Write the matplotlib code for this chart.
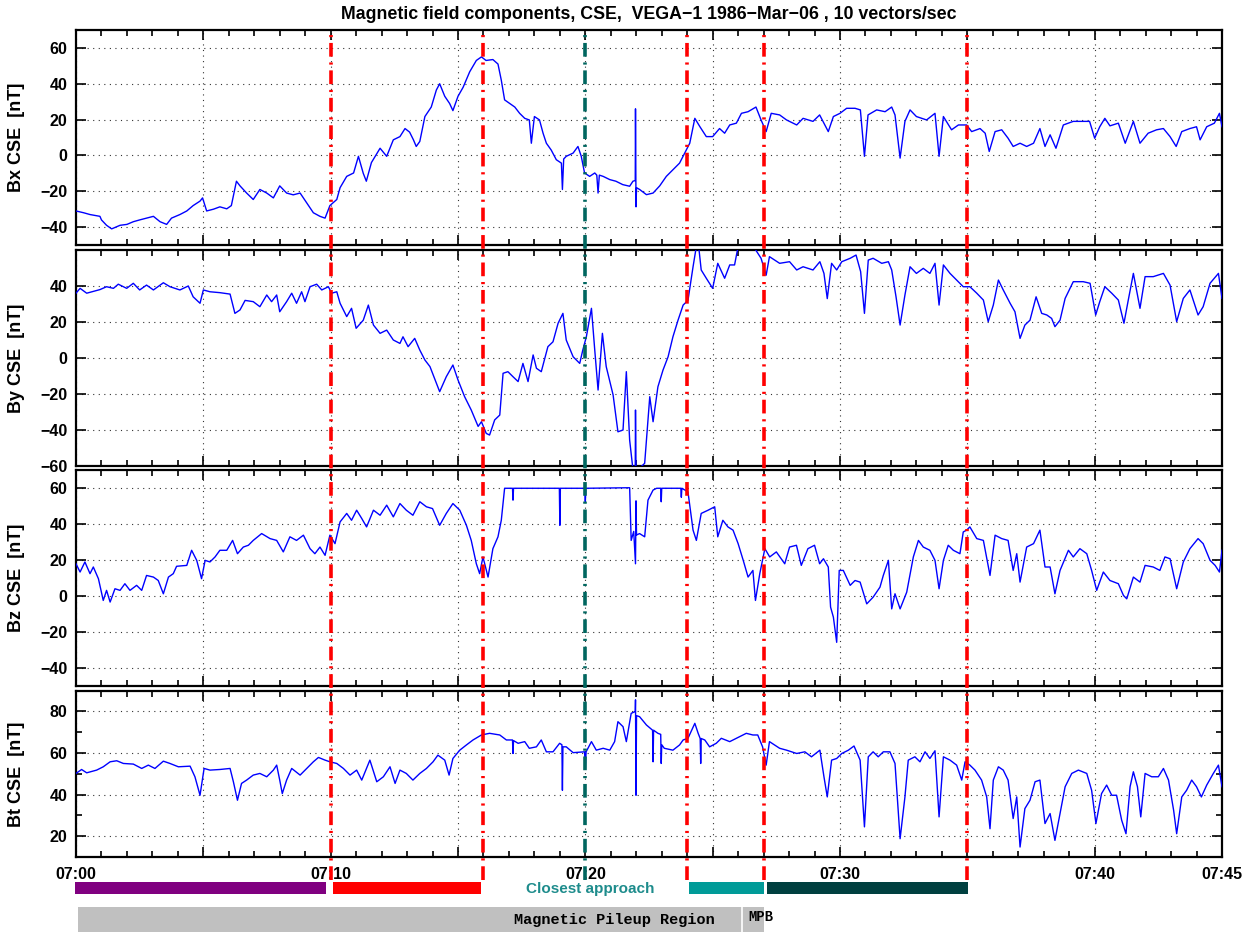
import numpy as np
import matplotlib
matplotlib.use("Agg")
import matplotlib.pyplot as plt
from matplotlib.lines import Line2D
from matplotlib.patches import Rectangle
from matplotlib.ticker import MultipleLocator, FuncFormatter
from matplotlib.transforms import blended_transform_factory

plt.rcParams["font.family"] = ["Liberation Sans", "DejaVu Sans"]
plt.rcParams["font.weight"] = "bold"
plt.rcParams["axes.unicode_minus"] = True

# (minutes after 07:00, nT)
BX = [(0,-31),(0.3,-32),(0.55,-33),(0.94,-34),(1.0,-36),(1.2,-39),(1.4,-41),(1.73,-39),(2.0,-38.5),(2.25,-37),(2.5,-36),(2.77,-35),(3.04,-34),(3.3,-37),(3.56,-38.5),(3.75,-35),(4.08,-33),(4.35,-31),(4.6,-28),(4.87,-25.5),(4.97,-23.7),(5.13,-31),(5.4,-30),(5.65,-28.7),(5.92,-29.8),(6.1,-28),(6.3,-14.4),(6.44,-17),(6.7,-21),(6.96,-24.6),(7.22,-19),(7.49,-21),(7.75,-23.7),(8.0,-17),(8.27,-21),(8.53,-22),(8.8,-21),(9.06,-26.5),(9.32,-32),(9.58,-34),(9.78,-35),(9.97,-28),(10.24,-24.6),(10.37,-18),(10.63,-11.7),(10.9,-9.8),(11.09,-0.5),(11.28,-10),(11.4,-14.4),(11.6,-4),(11.94,4),(12.2,-0.5),(12.46,8.7),(12.72,10.5),(12.92,15),(13.1,13),(13.25,8.7),(13.36,5),(13.5,7.8),(13.7,21.7),(13.95,27),(14.15,36.5),(14.28,40),(14.48,33),(14.67,29),(14.8,25),(15.0,33),(15.2,38),(15.46,46.7),(15.72,53),(15.92,55),(16.1,53),(16.37,53.5),(16.57,51),(16.7,42),(16.83,31),(17.03,29),(17.23,27),(17.42,23.5),(17.62,20.7),(17.8,19.8),(17.88,6.8),(18.0,21.7),(18.2,19.8),(18.34,12.4),(18.47,6.8),(18.66,3),(18.86,-2.4),(19.06,-4.3),(19.1,-19),(19.15,-2),(19.25,-0.5),(19.52,1.3),(19.71,5),(19.84,-0.5),(19.97,-9.8),(20.17,-11.7),(20.37,-9.8),(20.45,-11),(20.5,-21),(20.55,-11),(20.7,-11.7),(20.96,-13.5),(21.2,-14.4),(21.47,-16.3),(21.74,-17.2),(21.87,-14.4),(21.96,-14),(21.97,26),(21.99,-28.7),(22.01,-18),(22.13,-19),(22.4,-21.9),(22.66,-21),(22.92,-17),(23.18,-11.7),(23.44,-8),(23.7,-4.3),(23.9,1.3),(24.1,6.8),(24.3,20.7),(24.5,16),(24.75,10.5),(25.0,10.5),(25.27,15),(25.47,12.4),(25.67,17),(25.93,18),(26.13,23.5),(26.39,24.4),(26.7,27),(26.9,19.8),(27.1,13.3),(27.3,23.5),(27.63,22.6),(27.9,19.8),(28.3,17),(28.55,20.7),(28.94,19),(29.2,22.6),(29.54,13.3),(29.74,21.7),(30.0,23.5),(30.26,26.3),(30.59,26.3),(30.8,25.4),(30.96,-0.5),(31.1,22.6),(31.44,25.4),(31.77,24.4),(32.03,27),(32.16,22.6),(32.36,-1.5),(32.55,19),(32.75,25.4),(33.0,21.7),(33.4,19.8),(33.73,23.5),(33.89,-0.5),(34.06,21.7),(34.38,14.3),(34.65,17),(34.97,17),(35.17,13.3),(35.5,15),(35.7,12.4),(35.86,2.2),(36.09,13.3),(36.35,14.3),(36.6,9.6),(36.8,5),(37.07,6.8),(37.33,5),(37.6,6.8),(37.85,15),(38.05,5),(38.25,11.5),(38.48,4),(38.77,17),(39.16,19),(39.55,19),(39.8,19),(40.0,9.6),(40.2,16),(40.4,20.7),(40.6,16.5),(40.93,18),(41.2,6.8),(41.52,19),(41.78,6.8),(42.1,12.4),(42.43,14.3),(42.7,15),(42.96,10.5),(43.2,5),(43.42,13.3),(43.74,15),(44.0,16),(44.14,8.7),(44.4,16),(44.7,18),(44.9,23.5),(45.0,16)]

BY = [(0,36),(0.16,38.7),(0.42,36),(0.68,37),(0.94,38),(1.2,39.6),(1.47,38.7),(1.66,41),(1.99,38.7),(2.25,41.5),(2.5,37.8),(2.77,40.5),(3.04,37.8),(3.43,41.8),(3.69,39.6),(4.08,37.8),(4.41,40),(4.6,34),(4.87,30.4),(5.0,37.8),(5.26,36.8),(5.65,36.3),(6.05,35.5),(6.24,24.8),(6.44,26.7),(6.64,32),(6.96,31.3),(7.22,28.5),(7.49,35),(7.68,31.3),(7.88,35),(8.0,25.7),(8.27,31.3),(8.47,36),(8.66,30.4),(8.86,36.8),(8.99,31.3),(9.19,39.6),(9.45,41),(9.65,37.8),(9.91,39.6),(10.04,36),(10.24,36.8),(10.37,30.4),(10.63,23),(10.82,27.6),(11.0,16.5),(11.28,21),(11.48,29.4),(11.68,18.3),(11.94,13.7),(12.2,15.5),(12.46,10),(12.72,8.1),(12.84,11.8),(13.04,6.3),(13.3,10.9),(13.5,4.4),(13.7,-1.1),(13.9,-4.8),(14.15,-14),(14.28,-18.7),(14.54,-10.4),(14.8,-3.9),(15.0,-12.2),(15.26,-21.5),(15.52,-28.9),(15.79,-38),(15.92,-35.4),(16.11,-41.9),(16.24,-42.8),(16.44,-34.4),(16.64,-31.7),(16.77,-8.5),(16.96,-7.6),(17.16,-10.4),(17.36,-13.1),(17.55,-3),(17.75,-13.1),(17.95,1.7),(18.08,-5.7),(18.27,-7.6),(18.53,6.3),(18.73,9),(18.93,19.3),(19.12,24.8),(19.25,10),(19.52,0.7),(19.78,-3),(19.9,4.4),(20.04,11.8),(20.24,27.6),(20.37,4.4),(20.5,-17.8),(20.67,13.7),(20.82,-4.8),(21.09,-20.5),(21.28,-41),(21.48,-40),(21.61,-7.6),(21.74,-45.6),(21.87,-62),(21.96,-62),(21.97,-28.9),(21.99,-62),(22.07,-62),(22.33,-58.5),(22.53,-21.5),(22.66,-35.4),(22.85,-16),(23.05,-6.7),(23.25,0.7),(23.44,11.8),(23.64,21),(23.84,29.4),(24.03,32),(24.23,50.7),(24.36,62),(24.45,62),(24.55,48.9),(24.75,44.3),(25.0,38.7),(25.2,52.6),(25.47,44.3),(25.67,51.7),(25.86,51.7),(26.0,62),(26.6,62),(26.9,55.4),(27.1,46),(27.23,56.3),(27.63,52.6),(28.02,53.5),(28.3,48.9),(28.55,50.7),(28.94,48.9),(29.21,53.5),(29.37,47),(29.5,33),(29.67,52.6),(29.87,48.9),(30.07,53.5),(30.4,55.4),(30.63,57.2),(30.81,48),(30.96,24.8),(31.11,54.4),(31.3,55.4),(31.64,52.6),(31.9,53.5),(32.03,48.9),(32.2,34),(32.36,18.3),(32.55,35),(32.75,50.7),(33.0,47),(33.27,49.8),(33.53,47),(33.73,52.6),(33.89,29.4),(34.06,51.7),(34.32,47),(34.58,43.3),(34.84,39.6),(35.1,39.6),(35.37,36),(35.63,32.2),(35.82,20.2),(36.02,29.4),(36.22,43.3),(36.41,37.8),(36.68,30.4),(36.87,25.7),(37.07,10.9),(37.26,18.3),(37.46,21),(37.7,34),(37.92,24.8),(38.12,23.9),(38.31,22),(38.44,17.4),(38.64,21),(38.84,33.1),(39.16,42.4),(39.55,42.4),(39.82,41.5),(40.04,23.9),(40.2,31.3),(40.4,39.6),(40.67,36),(40.93,32.2),(41.15,19.3),(41.32,32.2),(41.52,47),(41.78,27.6),(41.98,45.2),(42.3,45.2),(42.7,47),(42.96,40.5),(43.22,20.2),(43.48,33.1),(43.74,37.8),(44.06,23.9),(44.26,28.5),(44.53,41.5),(44.86,47),(45.0,33.1)]

BZ = [(0,18),(0.16,13.4),(0.35,19),(0.55,12.5),(0.68,16.2),(0.88,9.7),(1.07,-2.4),(1.2,3.2),(1.34,-3.3),(1.53,4.1),(1.73,3.2),(1.92,6.9),(2.12,3.2),(2.38,6),(2.58,3.2),(2.77,11.5),(3.04,10.6),(3.23,8.7),(3.43,1.3),(3.63,10.6),(3.82,12.5),(3.95,16.6),(4.35,17.1),(4.54,25.5),(4.74,19.9),(4.93,9.7),(5.07,19.9),(5.26,19),(5.46,21.8),(5.65,25.5),(5.92,25.5),(6.15,31),(6.34,23.6),(6.57,27.3),(6.77,28.3),(6.96,31),(7.29,34.8),(7.62,32),(7.88,31),(8.14,24.6),(8.4,33),(8.66,31),(8.93,33.9),(9.19,26.4),(9.38,23.6),(9.58,27.3),(9.78,22.7),(9.97,33.9),(10.17,29.2),(10.37,41.3),(10.63,46),(10.82,42.2),(11.02,47.8),(11.22,43.2),(11.41,38.5),(11.68,47.8),(11.94,45),(12.2,50.6),(12.46,44.1),(12.72,51.5),(12.97,47.8),(13.23,45),(13.5,52.5),(13.76,49.7),(14.0,48.7),(14.28,39.4),(14.54,46),(14.8,51.5),(15.07,47.8),(15.33,39.4),(15.52,31),(15.72,18),(15.85,12.5),(15.98,21.8),(16.18,10.6),(16.37,26.4),(16.57,33),(16.7,42.2),(16.83,60),(17.14,60),(17.16,53.4),(17.18,60),(18.98,60),(19.0,39.4),(19.02,60),(19.98,60),(20.0,52.5),(20.02,60),(21.74,60.3),(21.8,31),(21.9,36),(21.97,18),(21.99,53),(22.01,34),(22.13,34.8),(22.33,33),(22.46,53.4),(22.66,59),(22.8,60),(22.96,60),(22.98,52.5),(23.0,60),(23.75,60),(23.77,55),(23.79,60),(24.03,58),(24.23,36.7),(24.36,31),(24.55,46),(24.82,47.8),(25.08,49.7),(25.2,33),(25.4,42.2),(25.6,38.5),(25.8,36.7),(26.0,29.2),(26.2,19.9),(26.39,10.6),(26.58,14.3),(26.68,-2.4),(26.85,12.5),(27.05,26.4),(27.24,21.8),(27.5,24.6),(27.83,18),(28.02,27.3),(28.29,28.3),(28.48,17.1),(28.74,26.4),(29.0,28.3),(29.2,18),(29.35,20.8),(29.54,16.2),(29.63,-6.1),(29.74,-11.7),(29.87,-25.7),(29.97,14.3),(30.13,14.3),(30.4,6),(30.59,8.7),(30.79,7.8),(31.05,-4.3),(31.3,-0.6),(31.57,5),(31.7,11.5),(31.9,19.9),(32.03,-7.1),(32.16,1.3),(32.36,-7.1),(32.62,2.2),(32.88,21.8),(33.08,31),(33.27,27.3),(33.53,25.5),(33.73,19.9),(33.89,4.1),(34.06,19.9),(34.25,28.3),(34.45,25.5),(34.71,23.6),(34.84,35.7),(34.97,36.7),(35.1,38.5),(35.37,32),(35.63,31),(35.89,11.5),(36.09,33.9),(36.35,32),(36.6,31),(36.8,14.3),(36.94,23.6),(37.07,7.8),(37.33,27.3),(37.6,29.2),(37.85,36.7),(38.05,16.2),(38.25,16.2),(38.44,1.3),(38.64,14.3),(38.97,25.5),(39.16,21.8),(39.42,26.4),(39.69,23.6),(39.88,14.3),(40.08,3.2),(40.34,13.4),(40.6,8.7),(40.93,6.9),(41.13,0.4),(41.26,-1.5),(41.52,10.6),(41.78,7.8),(41.98,17.1),(42.3,16.2),(42.56,14.3),(42.76,21.8),(42.96,20.8),(43.22,4.1),(43.48,19),(43.74,26.4),(44.06,32),(44.26,29.2),(44.53,19.9),(44.73,17.1),(44.9,13.4),(45.0,25.5)]

BT = [(0,50.2),(0.22,52.1),(0.42,50.5),(0.81,51.8),(1.07,53.4),(1.34,55.8),(1.6,56.3),(1.86,55),(2.25,54.7),(2.58,52.6),(2.84,54.2),(3.1,52.6),(3.43,56.1),(3.69,55),(4.02,53.4),(4.48,53.7),(4.67,48.6),(4.87,39.7),(5.03,52.6),(5.26,51.8),(5.65,52.1),(6.05,52.6),(6.18,46.2),(6.34,37.3),(6.5,45.4),(6.7,47),(6.96,49.4),(7.22,50.2),(7.49,48.6),(7.75,51.8),(7.88,54.2),(8.0,47),(8.1,40.5),(8.27,47),(8.47,52.6),(8.8,49.4),(9.06,52.6),(9.32,55.8),(9.52,57.9),(9.78,56.6),(9.97,55.8),(10.24,55),(10.5,52.6),(10.76,49.4),(11.02,51.8),(11.22,47),(11.54,56.6),(11.81,46.2),(12.07,48.6),(12.33,53.4),(12.53,45.4),(12.72,51.8),(12.97,50.2),(13.23,47),(13.5,50.2),(13.76,52.6),(14.02,55.8),(14.21,59),(14.48,56.6),(14.65,49.4),(14.8,57.4),(15.07,61.4),(15.33,63.9),(15.59,66.3),(15.92,68.7),(16.24,69.5),(16.64,68.7),(16.9,66.3),(17.14,66.3),(17.16,59.8),(17.18,66),(17.36,64.7),(17.62,65.5),(17.8,62.3),(18.08,63),(18.27,66.3),(18.47,60.6),(18.73,60.6),(18.99,64.7),(19.08,64),(19.1,42.1),(19.12,63),(19.25,63),(19.52,60.2),(19.97,60.6),(20.0,52.6),(20.03,60.6),(20.24,65.5),(20.43,61.4),(20.7,62.3),(20.96,61.4),(21.15,65.5),(21.28,75.1),(21.48,72.7),(21.61,65.5),(21.8,79.1),(21.96,80),(21.97,85.6),(21.99,39.7),(22.01,78),(22.13,77.5),(22.4,73.5),(22.64,71),(22.66,55.8),(22.68,71),(22.85,69.5),(22.96,69),(22.98,55),(23.0,64),(23.1,62.3),(23.44,61.4),(23.7,63.9),(23.84,66.3),(24.03,67.1),(24.3,74.3),(24.43,69.5),(24.51,67),(24.53,55),(24.55,67),(24.69,66.3),(24.88,63),(25.14,64.7),(25.34,67.1),(25.67,65.5),(25.93,67.1),(26.32,69.5),(26.58,68.7),(26.77,68.7),(26.96,63),(27.1,54.2),(27.23,65.5),(27.63,62.3),(27.9,61.4),(28.3,59.8),(28.62,60.6),(28.88,58.2),(29.21,61.4),(29.37,48.6),(29.5,38.9),(29.67,56.6),(29.87,57.4),(30.07,59.8),(30.33,61.4),(30.55,63.4),(30.79,56.6),(30.96,24.5),(31.11,58.2),(31.3,60.6),(31.5,58.2),(31.7,60.6),(31.96,60.6),(32.16,55),(32.36,18.8),(32.55,38.9),(32.68,56.6),(32.94,58.2),(33.14,55.8),(33.34,60.6),(33.53,57.4),(33.73,61.1),(33.89,29.3),(34.06,58.2),(34.32,56.6),(34.58,54.2),(34.78,47),(34.91,55.8),(35.1,54.2),(35.3,51.8),(35.56,47),(35.76,38.9),(35.89,23.6),(36.02,47),(36.22,53.4),(36.41,51.8),(36.6,47),(36.8,28.5),(36.94,38.9),(37.07,14.8),(37.26,33.3),(37.46,37.3),(37.66,46.2),(37.85,47),(38.05,26.1),(38.25,30.9),(38.44,18),(38.64,30.9),(38.84,43.8),(39.1,50.2),(39.36,51.8),(39.69,50.2),(39.88,42.1),(40.05,26.1),(40.27,40.5),(40.47,44.6),(40.67,39.7),(40.86,39.7),(41.06,27.7),(41.23,21.2),(41.39,43.8),(41.52,51),(41.68,43.8),(41.81,29.3),(41.98,50.2),(42.24,48.6),(42.5,48.6),(42.7,52.6),(42.9,47),(43.1,32.5),(43.22,21.2),(43.42,38.9),(43.61,42.1),(43.81,47),(44.0,43.8),(44.19,38.9),(44.4,44.6),(44.66,50.2),(44.86,54.2),(45.0,43.8)]

LABELS = ["Bx CSE  [nT]", "By CSE  [nT]", "Bz CSE  [nT]", "Bt CSE  [nT]"]
YLIMS = [(-50, 70), (-60, 60), (-50, 70), (10, 90)]
YTICKS = [[-40, -20, 0, 20, 40, 60], [-60, -40, -20, 0, 20, 40],
          [-40, -20, 0, 20, 40, 60], [20, 40, 60, 80]]
XLABELED = [0, 10, 20, 30, 40, 45]

BOUNDARIES = [10, 16, 24, 27, 35]
CLOSEST = 20
REG_START = [-0.05, 10.1, 24.09, 27.15]
REG_END = [9.82, 15.92, 27.02, 35.03]
REG_COLORS = ["#800080", "#ff0000", "#009b98", "#004040"]
MPR_START, MPR_END, MPB_AT = 0.08, 27.02, 26.15

fig = plt.figure(figsize=(12.52, 9.32), dpi=100)
left, width = 76 / 1252, 1146 / 1252
boxes = [(0.73712, 0.23069), (0.5, 0.23176), (0.26395, 0.23144), (0.08047, 0.17843)]
axes = []
for i, (data, lab, yl, yt, (b, h)) in enumerate(zip([BX, BY, BZ, BT], LABELS, YLIMS, YTICKS, boxes)):
    ax = fig.add_axes([left, b, width, h])
    t, v = np.array(data).T
    ax.plot(t, v, color="#0000ff", lw=1.0, zorder=3)
    ax.set_xlim(0, 45)
    ax.set_ylim(*yl)
    ax.set_yticks(yt)
    if i == 3:
        ax.yaxis.set_minor_locator(MultipleLocator(10))
    ax.xaxis.set_major_locator(MultipleLocator(5))
    ax.xaxis.set_minor_locator(MultipleLocator(1))
    ax.grid(True, which="major", ls=(0, (1, 4)), color="#333333", lw=0.8)
    ax.tick_params(which="both", direction="in", top=True, right=True, width=1.2,
                   labelsize=11.5, pad=6)
    ax.tick_params(which="major", length=7)
    ax.tick_params(which="minor", length=4)
    for s in ax.spines.values():
        s.set_linewidth(1.6)
    ax.set_ylabel(lab, fontsize=13, fontweight="bold")
    ax.yaxis.set_label_coords(-0.0445, 0.5)
    if i < 3:
        ax.tick_params(labelbottom=False)
    else:
        ax.xaxis.set_major_formatter(FuncFormatter(
            lambda m, p: f"07:{int(m):02d}" if int(round(m)) in XLABELED else ""))
        ax.tick_params(axis="x", pad=7)
    axes.append(ax)

axes[0].set_title("Magnetic field components, CSE,  VEGA\u22121 1986\u2212Mar\u221206 , 10 vectors/sec",
                  fontsize=12.8, fontweight="bold", pad=8)

tr = blended_transform_factory(axes[3].transData, fig.transFigure)
y_top, y_bot = 1 - 30 / 932, 1 - 880 / 932
for bnd in BOUNDARIES:
    fig.add_artist(Line2D([bnd, bnd], [y_bot, y_top], transform=tr, color="#ff0000", lw=2.6,
                          ls=(0, (3.8, 1.6, 0.6, 1.6)), zorder=10))
fig.add_artist(Line2D([CLOSEST, CLOSEST], [y_bot, y_top], transform=tr, color="#00665f", lw=2.6,
                      ls=(0, (3.8, 1.6, 0.6, 1.6)), zorder=10))

bar_b, bar_h = 1 - 894 / 932, 12 / 932
for s, e, c in zip(REG_START, REG_END, REG_COLORS):
    fig.add_artist(Rectangle((s, bar_b), e - s, bar_h, transform=tr, facecolor=c,
                             edgecolor="none", zorder=5))
fig.text(20.19, 1 - 889 / 932, "Closest approach", transform=tr, ha="center", va="center",
         fontsize=11, fontweight="bold", color="#1e8c8c")

fig.add_artist(Rectangle((MPR_START, 0), MPR_END - MPR_START, 25 / 932, transform=tr,
                         facecolor="#c0c0c0", edgecolor="none", zorder=4))
fig.add_artist(Line2D([MPB_AT, MPB_AT], [0, 25 / 932], transform=tr, color="white", lw=1.2, zorder=5))
fig.text(21.16, 1 - 920 / 932, "Magnetic Pileup Region", transform=tr, ha="center", va="center",
         fontsize=11, fontweight="bold", family=["Liberation Mono", "DejaVu Sans Mono"], zorder=6)
fig.text(26.9, 1 - 917 / 932, "MPB", transform=tr, ha="center", va="center",
         fontsize=10, fontweight="bold", family=["Liberation Mono", "DejaVu Sans Mono"], zorder=6)

fig.savefig("out.png", dpi=100)
